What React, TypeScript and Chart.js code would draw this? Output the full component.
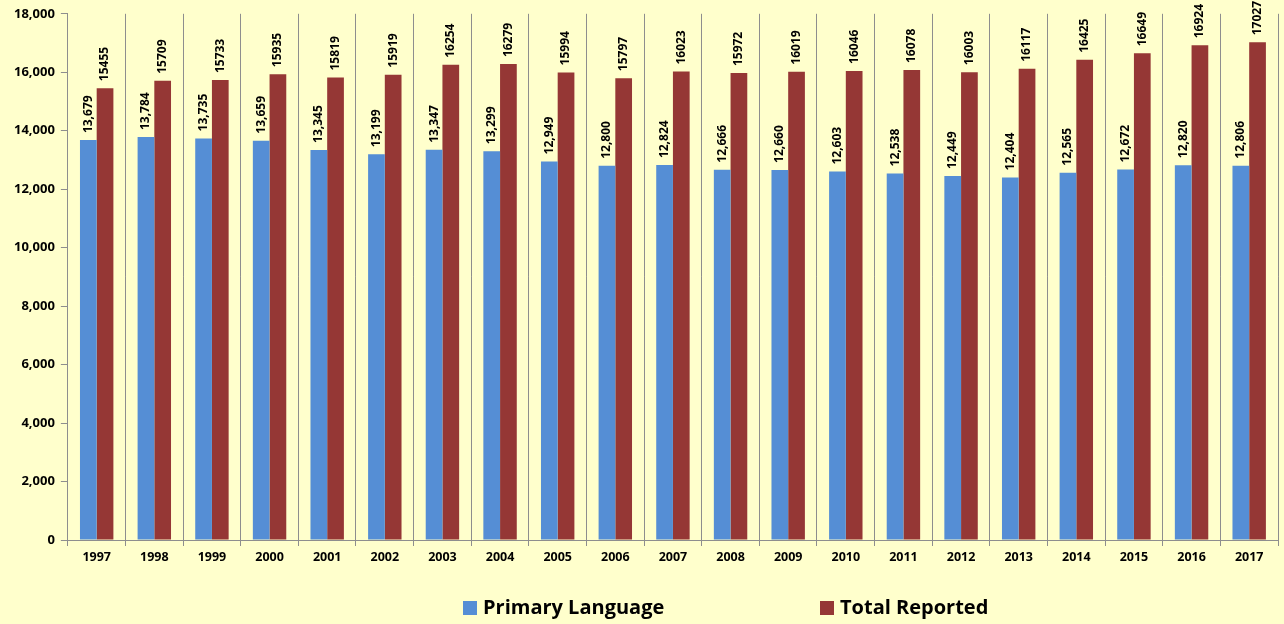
import React, { useEffect, useRef } from "react";
import { Chart, registerables } from "chart.js";

Chart.register(...registerables);

const years = ["1997","1998","1999","2000","2001","2002","2003","2004","2005","2006","2007","2008","2009","2010","2011","2012","2013","2014","2015","2016","2017"];
const primaryLanguage = [13679,13784,13735,13659,13345,13199,13347,13299,12949,12800,12824,12666,12660,12603,12538,12449,12404,12565,12672,12820,12806];
const totalReported = [15455,15709,15733,15935,15819,15919,16254,16279,15994,15797,16023,15972,16019,16046,16078,16003,16117,16425,16649,16924,17027];
const seriesNames = ["Primary Language", "Total Reported"];

const BLUE = "#558ED5";
const RED = "#953735";
const GRID = "#8E8E8E";
const FONT = "'Open Sans', Lato, sans-serif";

const labelPlugin = {
  id: "barLabels",
  afterDatasetsDraw(chart: any) {
    const ctx = chart.ctx;
    chart.data.datasets.forEach((ds: any, di: number) => {
      const meta = chart.getDatasetMeta(di);
      meta.data.forEach((bar: any, i: number) => {
        const v = ds.data[i];
        const txt = di === 0 ? v.toLocaleString("en-US") : String(v);
        ctx.save();
        ctx.translate(bar.x, bar.y - 7);
        ctx.rotate(-Math.PI / 2);
        ctx.font = `bold 12px ${FONT}`;
        ctx.fillStyle = "#000";
        ctx.textAlign = "left";
        ctx.textBaseline = "middle";
        ctx.fillText(txt, 0, 0);
        ctx.restore();
      });
    });
  },
};

const legendPlugin = {
  id: "customLegend",
  afterDraw(chart: any) {
    const ctx = chart.ctx;
    const xs = [463, 820];
    const y = 608;
    chart.data.datasets.forEach((ds: any, i: number) => {
      ctx.save();
      ctx.fillStyle = ds.backgroundColor;
      ctx.fillRect(xs[i], y - 7, 14, 14);
      ctx.font = `bold 20px ${FONT}`;
      ctx.fillStyle = "#000";
      ctx.textAlign = "left";
      ctx.textBaseline = "middle";
      ctx.fillText(ds.label, xs[i] + 20, y);
      ctx.restore();
    });
  },
};

export default function App() {
  const ref = useRef<HTMLCanvasElement>(null);
  useEffect(() => {
    document.body.style.margin = "0";
    const chart = new Chart(ref.current!, {
      type: "bar",
      data: {
        labels: years,
        datasets: [
          { label: seriesNames[0], data: primaryLanguage, backgroundColor: BLUE, barPercentage: 1, categoryPercentage: 0.58 },
          { label: seriesNames[1], data: totalReported, backgroundColor: RED, barPercentage: 1, categoryPercentage: 0.58 },
        ],
      },
      options: {
        animation: false,
        responsive: false,
        maintainAspectRatio: false,
        layout: { padding: { top: 6, right: 6, left: 8, bottom: 55 } },
        plugins: { legend: { display: false }, tooltip: { enabled: false } },
        scales: {
          x: {
            grid: { offset: true, color: GRID, lineWidth: 1, tickLength: 6, drawOnChartArea: true },
            border: { display: true, color: GRID },
            ticks: { color: "#000", font: { family: FONT, size: 12.5, weight: "bold" }, padding: 4, maxRotation: 0 },
          },
          y: {
            min: 0,
            max: 18000,
            ticks: {
              stepSize: 2000,
              color: "#000",
              font: { family: FONT, size: 13, weight: "bold" },
              padding: 6,
              callback: (v: any) => Number(v).toLocaleString("en-US"),
            },
            grid: { drawOnChartArea: false, color: GRID, tickLength: 7 },
            border: { display: true, color: GRID },
          },
        },
      },
      plugins: [labelPlugin, legendPlugin],
    });
    return () => chart.destroy();
  }, []);
  return (
    <div style={{ position: "fixed", left: 0, top: 0, width: 1284, height: 624, background: "#FFFFCC" }}>
      <canvas ref={ref} width={1284} height={624} style={{ display: "block" }} />
    </div>
  );
}
